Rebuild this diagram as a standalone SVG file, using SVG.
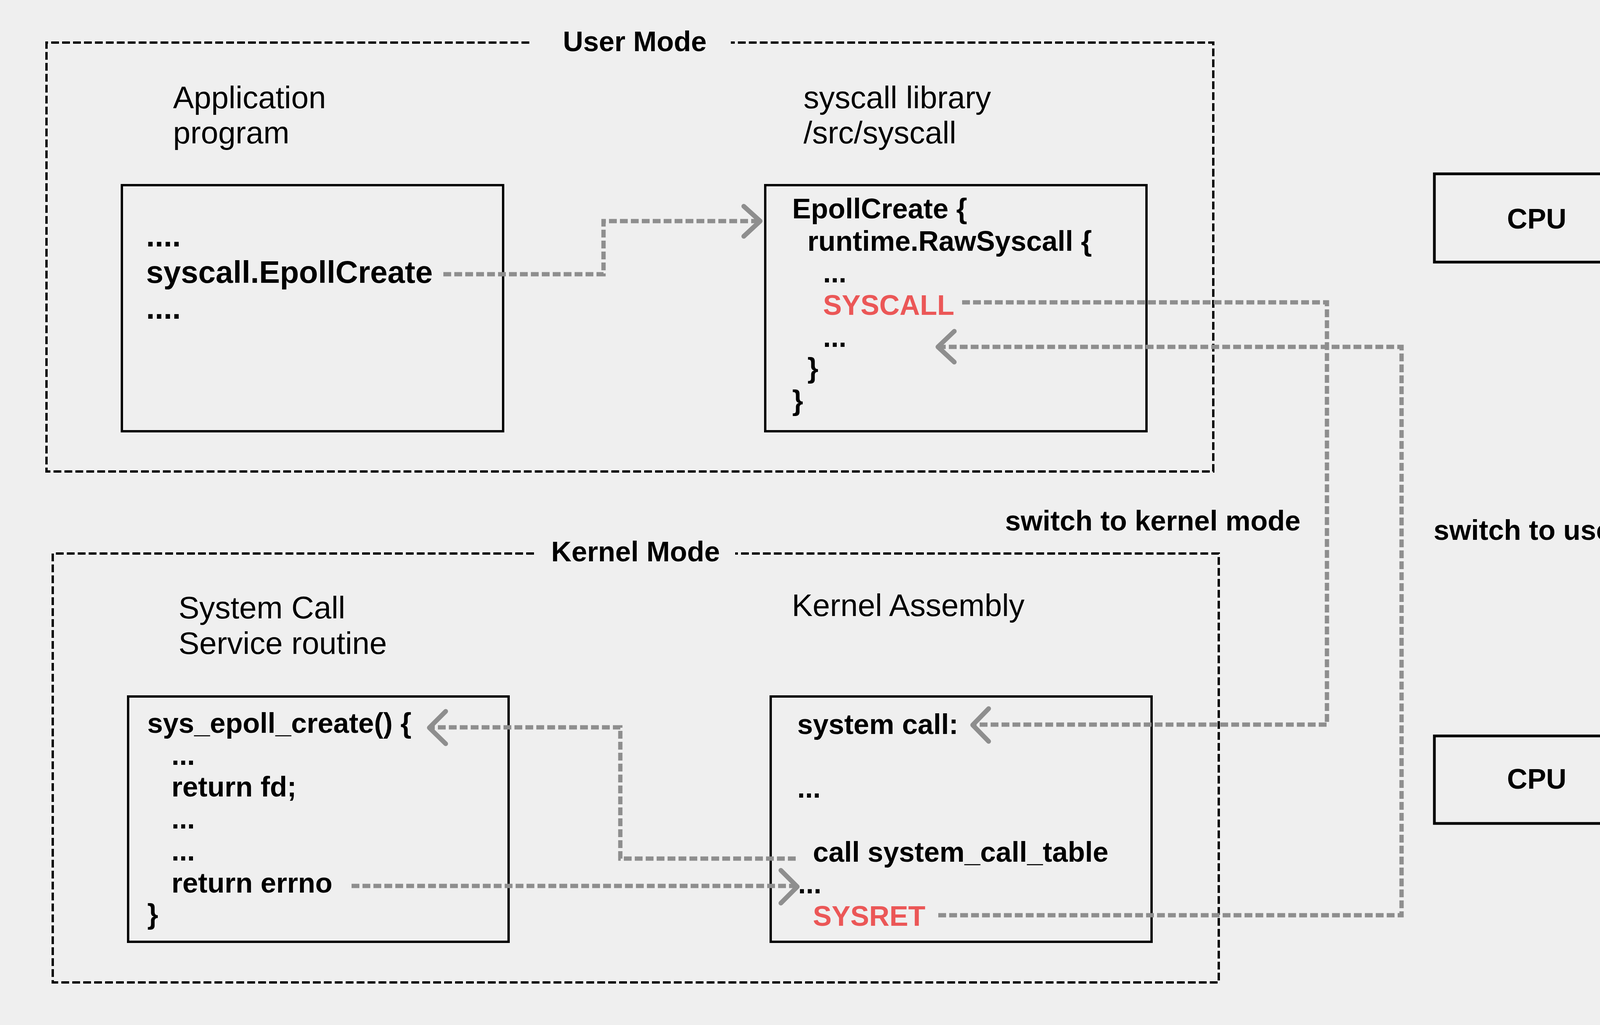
<svg xmlns="http://www.w3.org/2000/svg" width="4528" height="2624" viewBox="0 0 4528 2624">
<style>
text{font-family:"Liberation Sans",Arial,Helvetica,sans-serif;fill:#000}
.t{font-size:72px;font-weight:bold}
.lbl{font-size:80px}
.code{font-size:72px;font-weight:bold}
.big{font-size:80px;font-weight:bold}
.red{fill:#EB5757}
.blue{fill:#2F80ED;font-size:72px;font-weight:bold}
.frame{fill:none;stroke:#000;stroke-width:6;stroke-dasharray:20 8}
.box{fill:none;stroke:#000;stroke-width:6}
.cpu{fill:none;stroke:#000;stroke-width:7}
.conn{fill:none;stroke:#8E8E8E;stroke-width:11;stroke-dasharray:20 8}
.head{fill:none;stroke:#8E8E8E;stroke-width:12;stroke-linecap:round;stroke-linejoin:round}
</style>
<rect width="4528" height="2624" fill="#EFEFEF"/>

<g id="user-mode">
<path class="frame" d="M1355 109 H119 V1207 H3106 V109 H1871"/>
<text class="t" x="1625" y="131" text-anchor="middle">User Mode</text>
</g>

<g id="kernel-mode">
<path class="frame" d="M1367 1417 H135 V2515 H3120 V1417 H1882"/>
<text class="t" x="1627" y="1437" text-anchor="middle">Kernel Mode</text>
</g>

<g id="application">
<text class="lbl" x="443" y="277">Application</text>
<text class="lbl" x="443" y="367">program</text>
<rect class="box" x="312" y="474" width="976" height="630"/>
<text class="big" x="374" y="631">....</text>
<text class="big" x="374" y="724">syscall.EpollCreate</text>
<text class="big" x="374" y="816">....</text>
</g>

<g id="syscall-library">
<text class="lbl" x="2057" y="277">syscall library</text>
<text class="lbl" x="2057" y="367">/src/syscall</text>
<rect class="box" x="1959" y="474" width="976" height="630"/>
<text class="code" x="2028" y="559">EpollCreate {</text>
<text class="code" x="2067" y="642">runtime.RawSyscall {</text>
<text class="code" x="2107" y="723">...</text>
<text class="code red" x="2107" y="806">SYSCALL</text>
<text class="code" x="2107" y="888">...</text>
<text class="code" x="2067" y="967">}</text>
<text class="code" x="2028" y="1050">}</text>
</g>

<g id="service-routine">
<text class="lbl" x="457" y="1583">System Call</text>
<text class="lbl" x="457" y="1674">Service routine</text>
<rect class="box" x="328" y="1783" width="974" height="628"/>
<text class="code" x="377" y="1876">sys_epoll_create() {</text>
<text class="code" x="439" y="1958">...</text>
<text class="code" x="439" y="2039">return fd;</text>
<text class="code" x="439" y="2121">...</text>
<text class="code" x="439" y="2203">...</text>
<text class="code" x="439" y="2285">return errno</text>
<text class="code" x="377" y="2365">}</text>
</g>

<g id="kernel-assembly">
<text class="lbl" x="2027" y="1577">Kernel Assembly</text>
<rect class="box" x="1973" y="1783" width="975" height="628"/>
<text class="code" x="2041" y="1879">system call:</text>
<text class="code" x="2041" y="2042">...</text>
<text class="code" x="2081" y="2206">call system_call_table</text>
<text class="code" x="2043" y="2287">...</text>
<text class="code red" x="2081" y="2370">SYSRET</text>
</g>

<g id="cpu-ring3">
<rect class="cpu" x="3672" y="445" width="524" height="226"/>
<text class="t" x="3934" y="585" text-anchor="middle">CPU</text>
<text class="blue" x="4243" y="585">ring-3</text>
</g>

<g id="cpu-ring0">
<rect class="cpu" x="3672" y="1884" width="524" height="224"/>
<text class="t" x="3934" y="2019" text-anchor="middle">CPU</text>
<text class="blue" x="4243" y="2019">ring-0</text>
</g>

<g id="label-kernel">
<text class="t" x="2573" y="1358">switch to kernel mode</text>
</g>
<g id="label-user">
<text class="t" x="3670" y="1382">switch to user mode</text>
</g>

<g id="connectors">
<path class="conn" d="M1135 702 H1545 V566 H1942"/>
<path class="head" d="M1904 528 L1946 566 L1904 605"/>

<path class="conn" d="M2463 774 H3397 V1855 H2494"/>
<path class="head" d="M2531 1814 L2490 1856 L2531 1898"/>

<path class="conn" d="M2402 2343 H3588 V888 H2406"/>
<path class="head" d="M2443 848 L2401 888 L2443 927"/>

<path class="conn" d="M2037 2198 H1588 V1862 H1104"/>
<path class="head" d="M1141 1821 L1099 1863 L1141 1904"/>

<path class="conn" d="M900 2268 H2036"/>
<path class="head" d="M1999 2228 L2041 2270 L1999 2312"/>
</g>
</svg>
